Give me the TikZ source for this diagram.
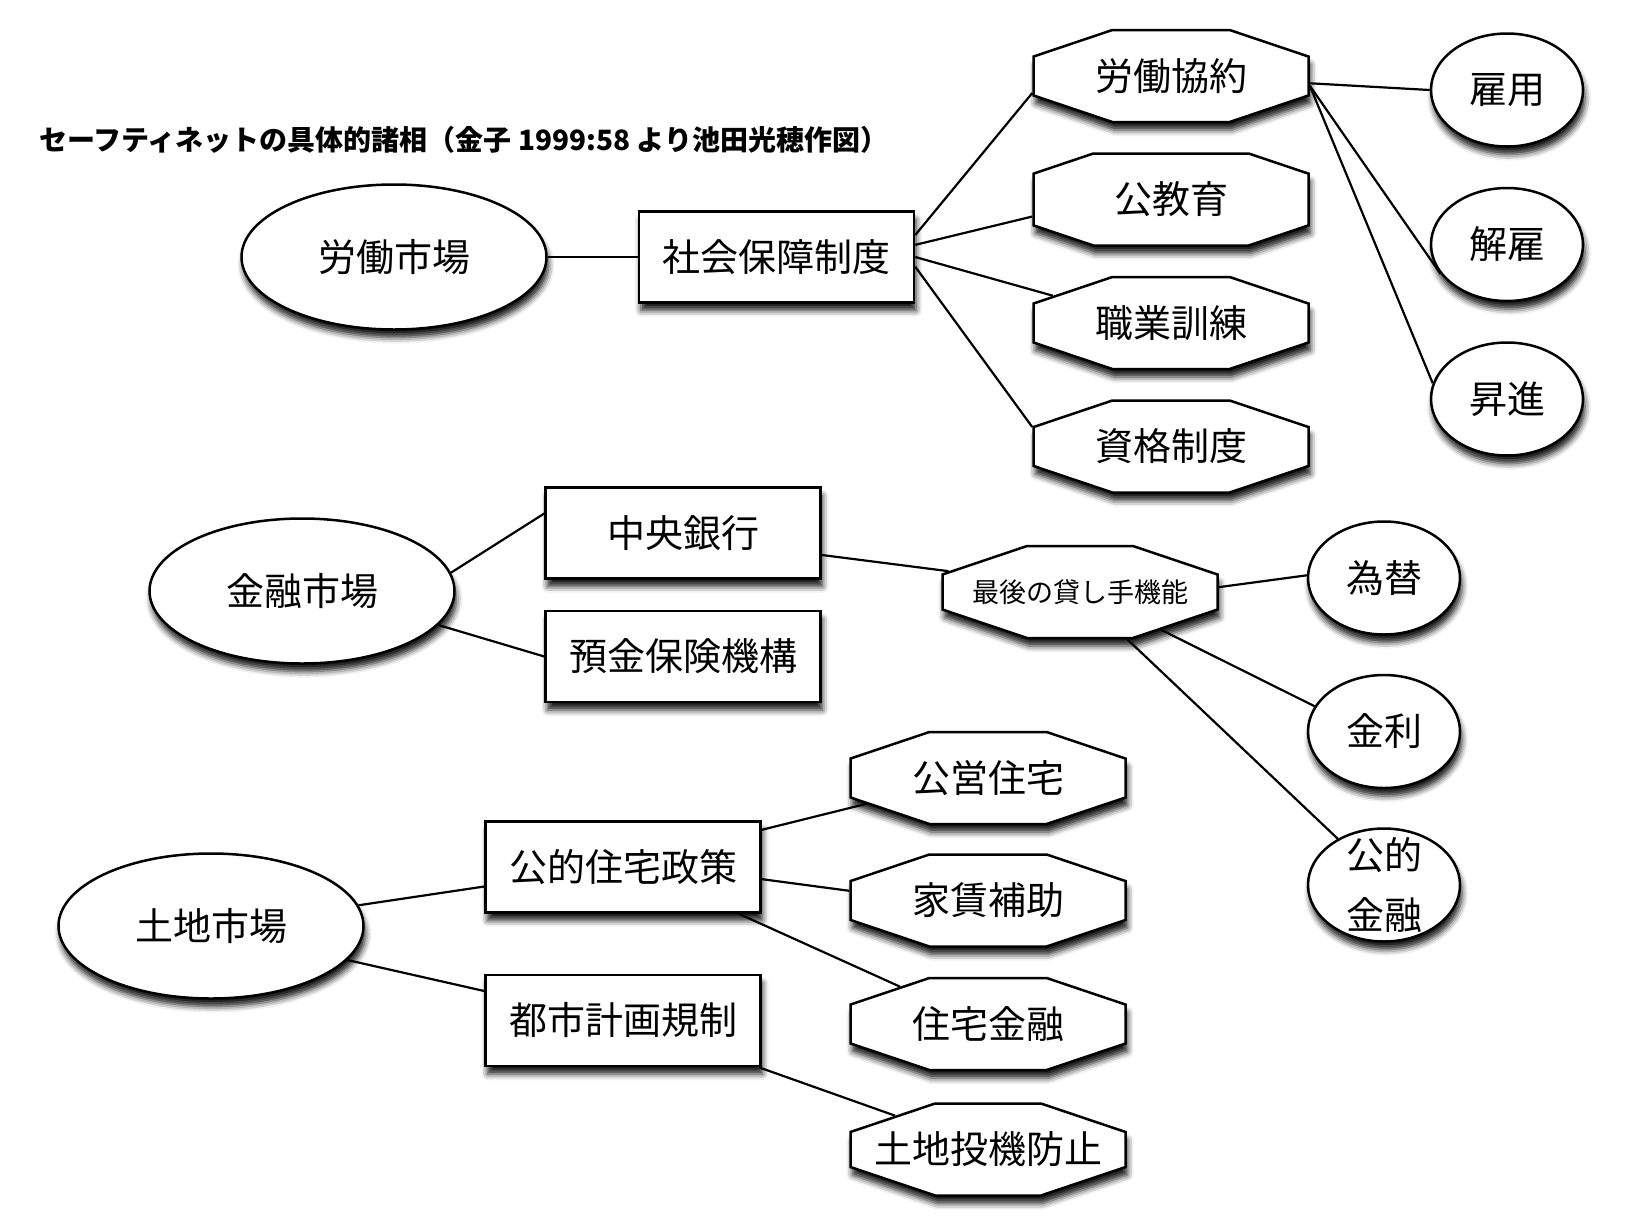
\documentclass[tikz,border=0pt]{standalone}
\usepackage{fontspec}
\newfontfamily\jpfont{Noto Sans CJK JP}
\usetikzlibrary{positioning}
\usetikzlibrary{shapes.geometric}
\usetikzlibrary{shapes.misc}
\usetikzlibrary{shadows.blur}

\newcommand{\nodefont}{\jpfont\fontsize{38}{60}\selectfont}
\newcommand{\smallnodefont}{\jpfont\fontsize{27}{32}\selectfont}
\newcommand{\titlefont}{\jpfont\bfseries\fontsize{28}{34}\selectfont}

\tikzset{
	castshadow/.style={blur shadow={shadow xshift=2pt, shadow yshift=-8pt, shadow blur radius=6pt, shadow opacity=90}},
	market/.style={ellipse, draw, line width=2.5pt, fill=white, minimum width=305pt, minimum height=145pt, inner sep=0pt, font=\nodefont, castshadow},
	sysbox/.style={rectangle, draw, line width=2.5pt, fill=white, minimum width=275pt, minimum height=91pt, inner sep=0pt, font=\nodefont, castshadow},
	policy/.style={chamfered rectangle, chamfered rectangle angle=71.4, chamfered rectangle ysep=27.5pt, draw, line width=2.5pt, fill=white, minimum width=275pt, minimum height=92pt, inner sep=0pt, font=\nodefont, castshadow},
	topic/.style={ellipse, draw, line width=2.5pt, fill=white, minimum width=152pt, minimum height=113pt, inner sep=0pt, font=\nodefont, castshadow},
	link/.style={line width=2.2pt}
}

\begin{document}
\begin{tikzpicture}[x=1pt, y=-1pt]
	\useasboundingbox (0,0) rectangle (1626,1227);
	
	\node [anchor=west, inner sep=0pt, font=\titlefont] at (39,140) (title) {セーフティネットの具体的諸相（金子 1999:58 より池田光穂作図）};
	
	% labour market
	\node [market] at (394,257) (roudou) {労働市場};
	\node [sysbox, right=90pt of roudou] (shakai) {社会保障制度};
	\node [policy] at (1171,76) (kyoyaku) {労働協約}; \node [policy, below=29pt of kyoyaku] (kyoiku) {公教育};
	\node [policy, below=29pt of kyoiku] (kunren) {職業訓練}; \node [policy, below=29pt of kunren] (shikaku) {資格制度};
	\node [topic] at (1507,90) (koyou) {雇用}; \node [topic, below=39pt of koyou] (kaiko) {解雇}; \node [topic, below=39pt of kaiko] (shoushin) {昇進};
	
	% financial market
	\node [market] at (302,591) (kinyu) {金融市場};
	\node [sysbox] at (683,533) (chuo) {中央銀行}; \node [sysbox, below=30pt of chuo] (yokin) {預金保険機構};
	\node [policy, font=\smallnodefont] at (1080,592) (saigo) {最後の貸し手機能};
	\node [topic] at (1384,578) (kawase) {為替}; \node [topic, below=38pt of kawase] (kinri) {金利};
	\node [topic, below=38pt of kinri, align=center, inner ysep=-25pt] (kouteki) {公的\\金融};
	
	% land market
	\node [market] at (211,926) (tochi) {土地市場};
	\node [sysbox] at (623,867) (jutaku) {公的住宅政策}; \node [sysbox, below=60pt of jutaku] (toshi) {都市計画規制};
	\node [policy] at (988,778) (kouei) {公営住宅}; \node [policy, below=28pt of kouei] (yachin) {家賃補助};
	\node [policy, below=29pt of yachin] (jkinyu) {住宅金融}; \node [policy, below=31pt of jkinyu] (touki) {土地投機防止};
	
	\draw [link] (roudou) -- (shakai);
	\draw [link] (shakai.9) -- (kyoyaku.187); \draw [link] (shakai.5) -- (kyoiku.187);
	\draw [link] (shakai.east) -- (kunren.167); \draw [link] (shakai.-4) -- (shikaku.172);
	\draw [link] (kyoyaku.-3) -- (koyou.west); \draw [link] (kyoyaku.-4) -- (kaiko.204); \draw [link] (kyoyaku.-4) -- (shoushin.168);
	
	\draw [link] (kinyu.7) -- (chuo.172); \draw [link] (kinyu.-14) -- (yokin.west);
	\draw [link] (chuo.-9) -- (saigo.171);
	\draw [link] (saigo.2) -- (kawase.178); \draw [link] (saigo.-25) -- (kinri.160); \draw [link] (saigo.-45) -- (kouteki.135);
	
	\draw [link] (tochi.8) -- (jutaku.188); \draw [link] (tochi.-14) -- (toshi.168);
	\draw [link] (jutaku.15) -- (kouei.192); \draw [link] (jutaku.-5) -- (yachin.176);
	\draw [link] (jutaku.-22) -- (jkinyu.157); \draw [link] (toshi.-19) -- (touki.160);
	
\end{tikzpicture}
\end{document}
